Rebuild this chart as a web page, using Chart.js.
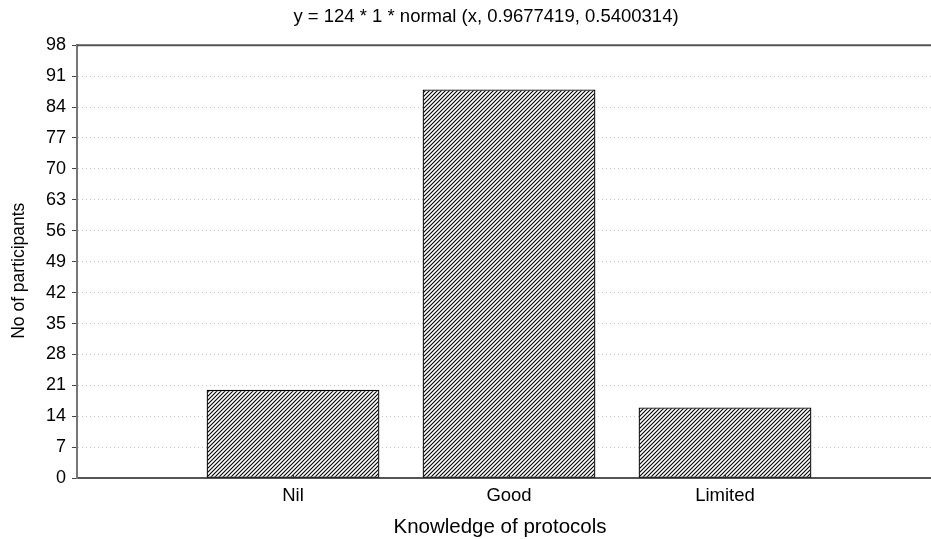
<!DOCTYPE html>
<html>
<head>
<meta charset="utf-8">
<script src="https://cdn.jsdelivr.net/npm/chart.js@4.4.1/dist/chart.umd.min.js"></script>
<style>
html,body{margin:0;padding:0;background:#fff;overflow:hidden;width:931px;height:539px;}
#c{display:block;}
</style>
</head>
<body>
<canvas id="c" width="960" height="539"></canvas>
<script>
const categories = ['', 'Nil', 'Good', 'Limited', ''];
const participants = [null, 20, 88, 16, null];
const yTicks = [0, 7, 14, 21, 28, 35, 42, 49, 56, 63, 70, 77, 84, 91, 98];
const titleText = 'y = 124 * 1 * normal (x, 0.9677419, 0.5400314)';
const xTitle = 'Knowledge of protocols';
const yTitle = 'No of participants';

function hatch() {
  const t = document.createElement('canvas');
  t.width = 4; t.height = 4;
  const g = t.getContext('2d');
  g.fillStyle = '#fff'; g.fillRect(0, 0, 4, 4);
  g.strokeStyle = '#000'; g.lineWidth = 1.1;
  g.beginPath();
  g.moveTo(-1, 5); g.lineTo(5, -1);
  g.moveTo(-1, 1); g.lineTo(1, -1);
  g.moveTo(3, 5); g.lineTo(5, 3);
  g.stroke();
  return g.createPattern(t, 'repeat');
}

const FONT = 'Liberation Sans, Arial, sans-serif';

const frame = {
  id: 'frame',
  afterLayout(chart) {
    const tb = chart.titleBlock;
    if (tb) { tb.left += 11; tb.right += 11; }
    const x = chart.scales.x, y = chart.scales.y;
    if (!x._shifted) {
      const ox = x.drawTitle;
      x.drawTitle = function () { const L = this.left; this.left = L - 18; ox.call(this); this.left = L; };
      x._shifted = true;
    }
    if (!y._shifted) {
      const oy = y.drawTitle;
      y.drawTitle = function () { const T = this.top, B = this.bottom; this.top = T + 9; this.bottom = B + 9; oy.call(this); this.top = T; this.bottom = B; };
      y._shifted = true;
    }
  },
  afterDatasetsDraw(chart) {
    const {ctx, chartArea: a, scales: {x}} = chart;
    ctx.save();
    ctx.strokeStyle = '#333';
    ctx.lineWidth = 1;
    for (let i = 1; i < categories.length - 1; i++) {
      const px = Math.round(x.getPixelForValue(i)) + 0.5;
      ctx.beginPath(); ctx.moveTo(px, a.bottom); ctx.lineTo(px, a.bottom - 4); ctx.stroke();
    }
    ctx.strokeStyle = '#555';
    ctx.lineWidth = 2;
    ctx.beginPath(); ctx.moveTo(a.left, a.top); ctx.lineTo(a.right, a.top); ctx.stroke();
    ctx.restore();
  }
};

new Chart(document.getElementById('c'), {
  type: 'bar',
  data: {
    labels: categories,
    datasets: [{
      data: participants,
      backgroundColor: hatch(),
      borderColor: '#000',
      borderWidth: 1.3,
      borderSkipped: false,
      categoryPercentage: 1,
      barPercentage: 0.8
    }]
  },
  options: {
    responsive: false,
    animation: false,
    devicePixelRatio: 1,
    layout: { padding: { left: 9, right: 19, top: 0, bottom: 0 } },
    plugins: {
      legend: { display: false },
      tooltip: { enabled: false },
      title: {
        display: true,
        text: titleText,
        color: '#000',
        font: { family: FONT, size: 18.5, weight: 'normal' },
        padding: { top: 6, bottom: 17 }
      }
    },
    scales: {
      x: {
        offset: false,
        grid: { display: false, offset: false, drawTicks: false },
        border: { display: true, color: '#555', width: 2 },
        ticks: { color: '#000', font: { family: FONT, size: 18.5 }, padding: 7, maxRotation: 0, autoSkip: false },
        title: { display: true, text: xTitle, color: '#000', font: { family: FONT, size: 20.5, lineHeight: 1.1 }, padding: { top: 2, bottom: 0 } }
      },
      y: {
        min: 0, max: 98,
        afterBuildTicks(scale) { scale.ticks = yTicks.map(v => ({ value: v })); },
        grid: { color: '#c8c8c8', lineWidth: 1, tickColor: '#444', tickLength: 5, drawTicks: true },
        border: { display: true, color: '#777', width: 2, dash: [1, 3] },
        ticks: { color: '#000', font: { family: FONT, size: 18 }, padding: 6 },
        title: { display: true, text: yTitle, color: '#000', font: { family: FONT, size: 17.5 }, padding: { top: 0, bottom: 10 } }
      }
    }
  },
  plugins: [frame]
});
</script>
</body>
</html>
